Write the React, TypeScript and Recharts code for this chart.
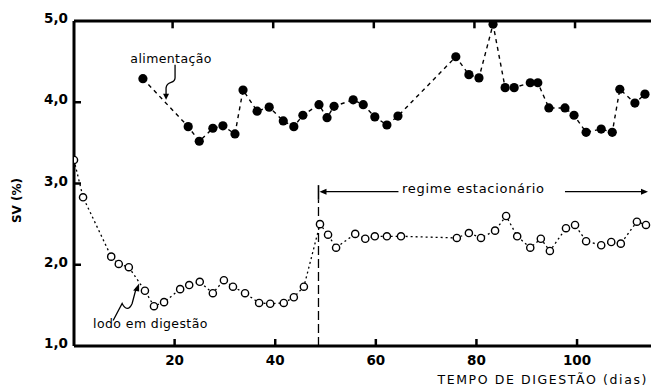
import React from 'react';
import { LineChart, Line, XAxis, YAxis, ReferenceLine, ReferenceDot } from 'recharts';

// alimentação (feed) — filled dots
const feedDays = [13.7, 22.7, 24.9, 27.6, 29.6, 32.0, 33.6, 36.4, 38.8, 41.6, 43.7, 45.5, 48.7, 50.3, 51.7, 55.5, 57.5, 59.8, 62.2, 64.4, 75.9, 78.5, 80.5, 83.3, 85.7, 87.5, 90.7, 92.2, 94.4, 97.6, 99.4, 101.8, 104.8, 107.0, 108.5, 111.5, 113.5];
const feedSV = [4.29, 3.70, 3.52, 3.68, 3.71, 3.61, 4.15, 3.89, 3.94, 3.77, 3.70, 3.84, 3.97, 3.81, 3.95, 4.03, 3.97, 3.82, 3.72, 3.83, 4.56, 4.34, 4.30, 4.96, 4.18, 4.18, 4.24, 4.24, 3.93, 3.93, 3.84, 3.63, 3.67, 3.63, 4.16, 3.99, 4.10];

// lodo em digestão — open dots
const sludgeDays = [0, 1.8, 7.4, 8.9, 10.9, 14.1, 15.9, 17.9, 21.1, 22.9, 25.0, 27.6, 29.8, 31.6, 34.0, 36.8, 39.0, 41.7, 43.7, 45.7, 48.9, 50.5, 52.1, 55.9, 57.9, 59.8, 62.2, 65.0, 76.1, 78.5, 80.9, 83.7, 85.9, 88.1, 90.7, 92.8, 94.6, 97.8, 99.6, 101.8, 104.8, 106.8, 108.7, 111.9, 113.7];
const sludgeSV = [3.29, 2.83, 2.10, 2.01, 1.97, 1.68, 1.49, 1.54, 1.70, 1.75, 1.79, 1.65, 1.81, 1.73, 1.65, 1.53, 1.52, 1.53, 1.60, 1.73, 2.50, 2.37, 2.21, 2.38, 2.32, 2.35, 2.35, 2.35, 2.33, 2.39, 2.33, 2.42, 2.60, 2.35, 2.21, 2.32, 2.17, 2.45, 2.49, 2.29, 2.24, 2.28, 2.26, 2.53, 2.49];

const xTicks = [20, 40, 60, 80, 100];
const yTicks = [1, 2, 3, 4, 5];
const yTickLabels = ['1,0', '2,0', '3,0', '4,0', '5,0'];
const xDomain: [number, number] = [0, 114.7];
const yDomain: [number, number] = [1, 5];

const steadyStart = 48.6;
const steadyEnd = 114.7;
const steadyLevel = 2.9;

const feedData = feedDays.map((d, i) => ({ d, v: feedSV[i] }));
const sludgeData = sludgeDays.map((d, i) => ({ d, v: sludgeSV[i] }));

const FONT = '"DejaVu Sans", sans-serif';

const BottomTick = (p: any) => (
  <g>
    <line x1={p.x} y1={p.y} x2={p.x} y2={p.y - 7} stroke="#000" strokeWidth={2.5} />
    <text x={p.x} y={p.y + 19} textAnchor="middle" fontFamily={FONT} fontSize={13.5} fontWeight="bold" fill="#000">
      {p.payload.value}
    </text>
  </g>
);

const LeftTick = (p: any) => {
  const idx = yTicks.indexOf(p.payload.value);
  return (
    <g>
      {p.payload.value > 1 && p.payload.value < 5 && (
        <line x1={p.x} y1={p.y} x2={p.x + 7} y2={p.y} stroke="#000" strokeWidth={2.5} />
      )}
      <text x={p.x - 6} y={p.y + 2} textAnchor="end" fontFamily={FONT} fontSize={13.5} fontWeight="bold" fill="#000">
        {yTickLabels[idx]}
      </text>
    </g>
  );
};

const YLabel = (p: any) => {
  const vb = p.viewBox;
  const cx = vb.x + 17;
  const cy = vb.y + vb.height / 2 + 17;
  return (
    <text x={cx} y={cy} transform={`rotate(-90 ${cx} ${cy})`} textAnchor="middle" dominantBaseline="middle" fontFamily={FONT} fontSize={12} fontWeight="bold" fill="#000">
      SV (%)
    </text>
  );
};

const XLabel = (p: any) => {
  const vb = p.viewBox;
  return (
    <text x={vb.x + vb.width - 3} y={vb.y + vb.height - 3} textAnchor="end" fontFamily={FONT} fontSize={12.5} letterSpacing={1.6} fill="#000">
      TEMPO DE DIGESTÃO (dias)
    </text>
  );
};

const OpenDot = (p: any) => (
  <circle key={`o${p.index}`} cx={p.cx} cy={p.cy} r={3.6} fill="#fff" stroke="#000" strokeWidth={1.4} />
);
const FilledDot = (p: any) => (
  <circle key={`f${p.index}`} cx={p.cx} cy={p.cy} r={4.6} fill="#000" stroke="none" />
);

const textShape = (label: string, size: number, spacing: number, anchor: string) => (p: any) => (
  <text x={p.cx} y={p.cy} textAnchor={anchor} fontFamily={FONT} fontSize={size} letterSpacing={spacing} fill="#000">
    {label}
  </text>
);

const feedArrow = (p: any) => {
  const x = p.cx, y = p.cy;
  return (
    <g>
      <path d={`M${x + 9},${y - 35} L${x + 9},${y - 22} C${x + 9},${y - 15} ${x + 1},${y - 20} ${x},${y - 12} L${x},${y - 4}`} fill="none" stroke="#000" strokeWidth={1.3} />
      <path d={`M${x - 3},${y - 6} L${x + 3},${y - 6} L${x},${y} Z`} fill="#000" />
    </g>
  );
};

const sludgeArrow = (p: any) => {
  const x = p.cx, y = p.cy;
  return (
    <g>
      <path d={`M${x - 25},${y + 37} L${x - 16},${y + 20} C${x - 13},${y + 26} ${x - 9},${y + 27} ${x - 6},${y + 20} L${x - 2},${y + 5}`} fill="none" stroke="#000" strokeWidth={1.3} />
      <path d={`M${x - 5},${y + 7} L${x + 1},${y + 8} L${x + 1},${y} Z`} fill="#000" />
    </g>
  );
};

const leftArrowSeg = (p: any) => (
  <g>
    <line x1={p.x1 + 4} y1={p.y1} x2={p.x2} y2={p.y2} stroke="#000" strokeWidth={1.3} />
    <path d={`M${p.x1 + 1},${p.y1} L${p.x1 + 8},${p.y1 - 3} L${p.x1 + 8},${p.y1 + 3} Z`} fill="#000" />
  </g>
);
const rightArrowSeg = (p: any) => (
  <g>
    <line x1={p.x1} y1={p.y1} x2={p.x2 - 5} y2={p.y2} stroke="#000" strokeWidth={1.3} />
    <path d={`M${p.x2 - 3},${p.y2} L${p.x2 - 10},${p.y2 - 3} L${p.x2 - 10},${p.y2 + 3} Z`} fill="#000" />
  </g>
);

export default function App() {
  return (
    <div style={{ position: 'absolute', left: 0, top: 0, width: 651, height: 387, background: '#fff' }}>
      <LineChart width={651} height={387} margin={{ top: 0, right: 0, bottom: 0, left: 0 }}>
        <XAxis
          xAxisId="b"
          type="number"
          dataKey="d"
          domain={xDomain}
          ticks={xTicks}
          allowDataOverflow
          height={41}
          axisLine={{ stroke: '#000', strokeWidth: 3 }}
          tickLine={false}
          tickSize={0}
          tickMargin={0}
          tick={<BottomTick />}
          label={<XLabel />}
        />
        <XAxis
          xAxisId="t"
          orientation="top"
          type="number"
          dataKey="d"
          domain={xDomain}
          ticks={xTicks}
          allowDataOverflow
          height={21}
          axisLine={{ stroke: '#000', strokeWidth: 3 }}
          tickLine={false}
          tick={false}
        />
        <YAxis
          yAxisId="l"
          type="number"
          domain={yDomain}
          ticks={yTicks}
          allowDataOverflow
          width={74}
          axisLine={{ stroke: '#000', strokeWidth: 3 }}
          tickLine={false}
          tickSize={0}
          tickMargin={0}
          tick={<LeftTick />}
          label={<YLabel />}
        />
        {xTicks.map((t) => (
          <ReferenceLine
            key={`tt${t}`}
            xAxisId="b"
            yAxisId="l"
            segment={[{ x: t - 0.4, y: 5 }, { x: t - 0.4, y: 4.91 }]}
            stroke="#000"
            strokeWidth={2.5}
          />
        ))}
        <ReferenceLine
          xAxisId="b"
          yAxisId="l"
          segment={[{ x: steadyStart, y: 1 }, { x: steadyStart, y: 2.8 }]}
          stroke="#000"
          strokeWidth={1.3}
          strokeDasharray="9 4"
        />
        <ReferenceLine
          xAxisId="b"
          yAxisId="l"
          segment={[{ x: steadyStart, y: 2.8 }, { x: steadyStart, y: 2.98 }]}
          stroke="#000"
          strokeWidth={1.6}
        />
        <ReferenceLine
          xAxisId="b"
          yAxisId="l"
          segment={[{ x: steadyStart, y: steadyLevel }, { x: 64.5, y: steadyLevel }]}
          shape={leftArrowSeg}
        />
        <ReferenceLine
          xAxisId="b"
          yAxisId="l"
          segment={[{ x: 97.6, y: steadyLevel }, { x: steadyEnd, y: steadyLevel }]}
          shape={rightArrowSeg}
        />
        <ReferenceDot xAxisId="b" yAxisId="l" x={79.4} y={2.88} r={0} shape={textShape('regime estacionário', 13, 0.7, 'middle')} />
        <ReferenceDot xAxisId="b" yAxisId="l" x={11.2} y={4.48} r={0} shape={textShape('alimentação', 12.5, 0.4, 'start')} />
        <ReferenceDot xAxisId="b" yAxisId="l" x={3.8} y={1.22} r={0} shape={textShape('lodo em digestão', 12.5, 0.4, 'start')} />
        <ReferenceDot xAxisId="b" yAxisId="l" x={18.3} y={4.03} r={0} shape={feedArrow} />
        <ReferenceDot xAxisId="b" yAxisId="l" x={12.75} y={1.77} r={0} shape={sludgeArrow} />
        <Line
          xAxisId="b"
          yAxisId="l"
          data={feedData}
          dataKey="v"
          type="linear"
          stroke="#000"
          strokeWidth={1.4}
          strokeDasharray="4 4"
          dot={FilledDot}
          activeDot={false}
          isAnimationActive={false}
        />
        <Line
          xAxisId="b"
          yAxisId="l"
          data={sludgeData}
          dataKey="v"
          type="linear"
          stroke="#000"
          strokeWidth={1.3}
          strokeDasharray="2 3"
          dot={OpenDot}
          activeDot={false}
          isAnimationActive={false}
        />
      </LineChart>
    </div>
  );
}
